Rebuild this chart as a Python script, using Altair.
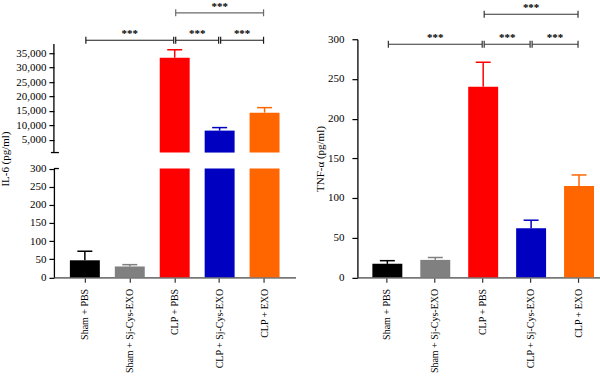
import altair as alt
import pandas as pd

FONT = "Liberation Serif"

groups = ["Sham + PBS", "Sham + Sj-Cys-EXO", "CLP + PBS", "CLP + Sj-Cys-EXO", "CLP + EXO"]
bar_colors = ["#000000", "#808080", "#ff0000", "#0000c0", "#ff6600"]

il6_mean = [47, 30, 33440, 8140, 14380]
il6_sd = [25, 5, 2760, 1040, 1730]
tnf_mean = [17, 22, 240, 62, 115]
tnf_sd = [4, 3, 31, 10, 14]

il6_ticks_upper = [5000, 10000, 15000, 20000, 25000, 30000, 35000]
il6_ticks_lower = [0, 50, 100, 150, 200, 250, 300]
tnf_ticks = [0, 50, 100, 150, 200, 250, 300]

il6_upper_domain = [520, 39850]
il6_upper_axis_top = 38180
il6_lower_domain = [0, 300]
tnf_domain = [0, 300]

# significance brackets: start group, end group, row
bracket_start = ["Sham + PBS", "CLP + PBS", "CLP + Sj-Cys-EXO", "CLP + PBS"]
bracket_end = ["CLP + PBS", "CLP + Sj-Cys-EXO", "CLP + EXO", "CLP + EXO"]
bracket_row = [0, 0, 0, 1]
il6_bracket_levels = [39500, 49030]
tnf_bracket_levels = [293.7, 331.5]
sig_label = "***"

# panel geometry
LW, RW, H = 242, 243, 238.5
UP_H = 113.5          # upper (broken) segment height
GAP = 16              # gap between axis segments


def make_table(mean, sd):
    return pd.DataFrame({
        "group": groups,
        "mean": mean,
        "upper": [m + s for m, s in zip(mean, sd)],
    })


def make_brackets(levels):
    rows = []
    for s, e, r in zip(bracket_start, bracket_end, bracket_row):
        i0, i1 = groups.index(s), groups.index(e)
        mid2 = i0 + i1
        rows.append({
            "start": s, "end": e, "row": r, "level": levels[r],
            "mid": groups[mid2 // 2], "half": mid2 % 2 == 1, "label": sig_label,
        })
    return pd.DataFrame(rows)


il6 = make_table(il6_mean, il6_sd)
tnf = make_table(tnf_mean, tnf_sd)
il6_br = make_brackets(il6_bracket_levels)
tnf_br = make_brackets(tnf_bracket_levels)
axis_df = pd.DataFrame({"k": [0]})

color_scale = alt.Scale(domain=groups, range=bar_colors)


def bracket_layers(bdf, xscale, xaxis, yscale, yaxis, row_colors, step):
    X = lambda f: alt.X(f, scale=xscale, axis=xaxis, bandPosition=0.5)
    Y = lambda f: alt.Y(f, scale=yscale, axis=yaxis)
    layers = []
    for r, col in enumerate(row_colors):
        base = alt.Chart(bdf).transform_filter(alt.datum.row == r)
        layers.append(base.mark_rule(color=col, strokeWidth=1.2, xOffset=1, x2Offset=-1).encode(
            x=X("start:N"), x2=alt.X2("end:N", bandPosition=0.5), y=Y("level:Q"),
        ))
        layers.append(base.mark_rule(color=col, strokeWidth=1.2, xOffset=1, yOffset=-3.5, y2Offset=3.5).encode(
            x=X("start:N"), y=Y("level:Q"), y2=alt.Y2("level:Q"),
        ))
        layers.append(base.mark_rule(color=col, strokeWidth=1.2, xOffset=-1, yOffset=-3.5, y2Offset=3.5).encode(
            x=X("end:N"), y=Y("level:Q"), y2=alt.Y2("level:Q"),
        ))
    text_base = alt.Chart(bdf)
    layers.append(text_base.transform_filter("!datum.half").mark_text(
        font=FONT, fontSize=11, fontWeight="bold", color="#000", baseline="top", dy=-12).encode(
        x=X("mid:N"), y=Y("level:Q"), text="label:N",
    ))
    layers.append(text_base.transform_filter("datum.half").mark_text(
        font=FONT, fontSize=11, fontWeight="bold", color="#000", baseline="top", dy=-12,
        dx=step / 2).encode(
        x=X("mid:N"), y=Y("level:Q"), text="label:N",
    ))
    return layers


def bar_layer(df, xscale, xaxis, yscale, yaxis, y2_datum=None):
    enc = dict(
        x=alt.X("group:N", scale=xscale, axis=xaxis, sort=groups, title=None),
        y=alt.Y("mean:Q", scale=yscale, axis=yaxis),
        color=alt.Color("group:N", scale=color_scale, legend=None),
    )
    if y2_datum is not None:
        enc["y2"] = alt.datum(y2_datum)
    return alt.Chart(df).mark_bar().encode(**enc)


def error_layers(df, xscale, xaxis, yscale, yaxis):
    err = alt.Chart(df).mark_rule(strokeWidth=1.5).encode(
        x=alt.X("group:N", scale=xscale, axis=xaxis, bandPosition=0.5),
        y=alt.Y("mean:Q", scale=yscale, axis=yaxis),
        y2="upper:Q",
        color=alt.Color("group:N", scale=color_scale, legend=None),
    )
    cap = alt.Chart(df).mark_rule(strokeWidth=1.5, xOffset=-7.5, x2Offset=7.5).encode(
        x=alt.X("group:N", scale=xscale, axis=xaxis, bandPosition=0.5),
        x2=alt.X2("group:N", bandPosition=0.5),
        y=alt.Y("upper:Q", scale=yscale, axis=yaxis),
        color=alt.Color("group:N", scale=color_scale, legend=None),
    )
    return [err, cap]


xaxis_common = dict(
    labelAngle=-90, labelFontSize=10, labelPadding=6, labelLimit=0, labelColor="#000",
    tickSize=5, tickColor="#333", tickWidth=1.2, title=None,
    domainColor="#777", domainWidth=1.6,
)
yaxis_common = dict(
    labelOverlap=False, labelSeparation=0, labelFontSize=11, labelColor="#000",
    tickColor="#000", tickWidth=1.2,
)
num_fmt = "format(datum.value, ',')"

# ---------------- Left: IL-6 (broken axis, two y scales in one view) ----------------
lx = alt.Scale(domain=groups, paddingInner=0.3333, paddingOuter=0.3556)
ly_up = alt.Scale(domain=il6_upper_domain, nice=False, zero=False, range=[UP_H, 0])
ly_lo = alt.Scale(domain=il6_lower_domain, nice=False, clamp=True, range=[H, UP_H + GAP])
left_xaxis = alt.Axis(**xaxis_common)
up_yaxis = alt.Axis(values=il6_ticks_upper, labelExpr=num_fmt, domain=False, orient="left",
                    tickSize=5, labelPadding=3,
                    title="IL-6 (pg/ml)", titleFontSize=11, titleFontWeight="normal",
                    titleX=-48, titleY=119.5, titleAlign="center", titleBaseline="middle",
                    titleAngle=270, titleColor="#000", **yaxis_common)
lo_yaxis = alt.Axis(values=il6_ticks_lower, orient="left", tickSize=5,
                    domainColor="#000", domainWidth=1.3, labelPadding=3, title=None,
                    **yaxis_common)

il6_big = il6[il6["mean"] > il6_lower_domain[1]]
il6_small = il6[il6["upper"] <= il6_lower_domain[1]]

b_up = bar_layer(il6_big, lx, left_xaxis, ly_up, up_yaxis, y2_datum=il6_upper_domain[0])
up_axis_line = alt.Chart(axis_df).mark_rule(color="#000", strokeWidth=1.3).encode(
    x=alt.value(0), y=alt.datum(il6_upper_domain[0], scale=ly_up, axis=up_yaxis),
    y2=alt.datum(il6_upper_axis_top))
up_break = alt.Chart(axis_df).mark_rule(color="#000", strokeWidth=1.3).encode(
    x=alt.value(-3), x2=alt.value(5),
    y=alt.datum(il6_upper_domain[0], scale=ly_up, axis=up_yaxis))

upper = alt.layer(
    b_up, up_axis_line, up_break,
    *error_layers(il6_big, lx, left_xaxis, ly_up, up_yaxis),
    *bracket_layers(il6_br, lx, left_xaxis, ly_up, up_yaxis, ["#1a1a1a", "#6a6a6a"], 45),
)

b_lo = bar_layer(il6, lx, left_xaxis, ly_lo, lo_yaxis)
lo_break = alt.Chart(axis_df).mark_rule(color="#000", strokeWidth=1.3).encode(
    x=alt.value(0), x2=alt.value(5),
    y=alt.datum(il6_lower_domain[1], scale=ly_lo, axis=lo_yaxis))

lower = alt.layer(b_lo, lo_break, *error_layers(il6_small, lx, left_xaxis, ly_lo, lo_yaxis))

left = alt.layer(upper, lower).resolve_scale(y="independent").properties(width=LW, height=H)

# ---------------- Right: TNF-alpha ----------------
rx = alt.Scale(domain=groups, paddingInner=0.375, paddingOuter=0.21875, align=0.714)
ry = alt.Scale(domain=tnf_domain, nice=False)
r_xaxis = alt.Axis(**xaxis_common)
r_yaxis = alt.Axis(values=tnf_ticks, tickSize=5.5, domainColor="#000", domainWidth=1.3,
                   labelPadding=8, title="TNF-α (pg/ml)", titleFontSize=11,
                   titleFontWeight="normal", titleX=-37, titleY=119.5, titleAlign="center",
                   titleBaseline="middle", titleAngle=270, titleColor="#000", **yaxis_common)

right = alt.layer(
    bar_layer(tnf, rx, r_xaxis, ry, r_yaxis),
    *error_layers(tnf, rx, r_xaxis, ry, r_yaxis),
    *bracket_layers(tnf_br, rx, r_xaxis, ry, r_yaxis, ["#333333", "#333333"], 48),
).properties(width=RW, height=H)

chart = alt.hconcat(left, right, spacing=62, bounds="flush").properties(
    padding=0, background="#ffffff"
).configure_view(stroke=None).configure_axis(
    labelFont=FONT, titleFont=FONT, grid=False, labelOverlap=False
)

chart.save("out.html", embed_options={"renderer": "svg", "actions": False})
